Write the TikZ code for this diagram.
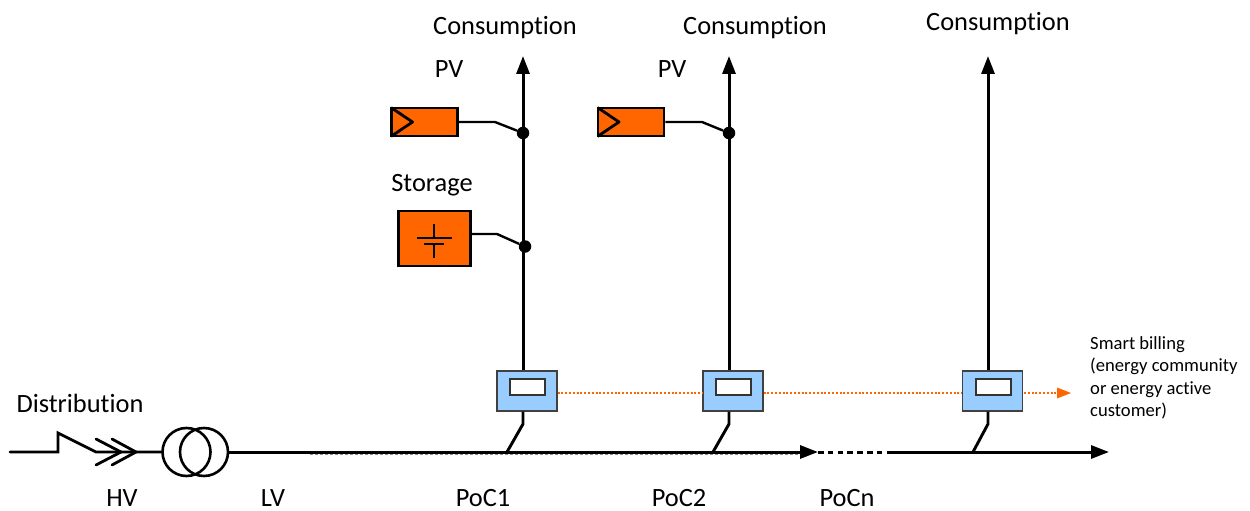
\documentclass[tikz,border=0pt]{standalone}
\usepackage{fontspec}
\setmainfont{Carlito}[Ligatures=CommonOff]
\usetikzlibrary{arrows.meta}
\definecolor{orfill}{HTML}{FF6600}
\definecolor{metblue}{HTML}{99CCFF}
\tikzset{
 x=1pt,y=-1pt,
 lbl/.style={inner sep=0pt,anchor=base,font=\fontsize{26.4}{30}\selectfont},
 small/.style={inner sep=0pt,align=left,anchor=north west,font=\fontsize{18.6}{22.5}\selectfont},
 wire/.style={line width=2.8pt,line cap=round,line join=miter},
 feed/.style={line width=3pt,-{Triangle[length=18pt,width=13pt]}},
 orbox/.style={draw=black,fill=orfill,line width=2.8pt,inner sep=0pt,minimum height=#1},
 meter/.style={draw=black!75,fill=metblue,line width=1.2pt,minimum width=60pt,minimum height=40pt,inner sep=0pt},
 window/.style={draw=black!80,fill=white,line width=1.2pt,minimum width=35pt,minimum height=16pt,inner sep=0pt},
 bill/.style={draw=orfill,line width=1.5pt,dash pattern=on 2pt off 1.8pt},
 dot/.style={circle,fill=black,minimum size=12.5pt,inner sep=0pt},
 xfmr/.style={draw=black,circle,line width=2.6pt,minimum size=48pt,inner sep=0pt},
 tail/.style={line width=2.9pt},
 stub/.style={line width=2.4pt},
 plate/.style={line width=1.6pt},
 arrowmark/.style={line width=2.8pt,line join=round},
}
\begin{document}
\begin{tikzpicture}
\useasboundingbox (0,0) rectangle (1250,511);
% meters
\node[meter] (m1) at (527,391) {};
\node[window] (w1) at (527.5,387) {};
\node[meter] (m2) at (733,391) {};
\node[window] (w2) at (733.5,387) {};
\node[meter] (m3) at (992.5,391) {};
\node[window] (w3) at (993.5,387) {};
% coordinates
\coordinate (start) at (10,452);
\coordinate (s1) at (58,452);
\coordinate (s2) at (58,433);
\coordinate (s3) at (96,452);
\coordinate (lvend) at (818,452);
\coordinate (gapend) at (890,452);
\coordinate (busend) at (1109,452);
\coordinate (top1) at (523,56);
\coordinate (top2) at (729,56);
\coordinate (top3) at (988,56);
\coordinate (k1) at (523,424);
\coordinate (k2) at (729,424);
\coordinate (k3) at (988,424);
\coordinate (b1) at (507,452);
\coordinate (b2) at (713,452);
\coordinate (b3) at (973,452);
\coordinate (billend) at (1071,393);
% transformer
\node[xfmr] (t1) at (186.5,452) {};
\node[xfmr] (t2) at (204,452) {};
% distribution feed
\draw[wire] (start) -- (s1) -- (s2) -- (s3) -- (t1.west);
\draw[wire] (96,439) -- (121,452) -- (96,465);
\draw[wire] (112,439) -- (136,452) -- (112,465);
% bus
\draw[feed] (t2.east) -- (lvend);
\draw[line width=1pt,black!45,dash pattern=on 3pt off 2pt] (310,454) -- (800,454);
\draw[line width=3pt,dash pattern=on 5.5pt off 4.3pt] (lvend) -- (gapend);
\draw[feed] (gapend) -- (busend);
% verticals
\draw[feed] (m1.north -| top1) -- (top1);
\draw[feed] (m2.north -| top2) -- (top2);
\draw[feed] (m3.north -| top3) -- (top3);
% meter tails
\draw[tail] (m1.south -| k1) -- (k1) -- (b1);
\draw[tail] (m2.south -| k2) -- (k2) -- (b2);
\draw[tail] (m3.south -| k3) -- (k3) -- (b3);
% billing line
\draw[bill] (m1.east |- billend) -- (m2.west |- billend);
\draw[bill] (m2.east |- billend) -- (m3.west |- billend);
\draw[bill] (1024,393) -- (1058,393);
\fill[orfill] (1057,387.5) -- (billend) -- (1057,398.5) -- cycle;
% PV 1
\node[orbox=28pt,minimum width=66pt] (pv1) at (424.5,122) {};
\draw[arrowmark] ([xshift=1pt,yshift=-1pt]pv1.north west) -- (412.5,122) -- ([xshift=1pt,yshift=1pt]pv1.south west);
\node[dot] (d1) at (523,133) {};
\coordinate (pk1) at (495,122);
\draw[stub] (pv1.east) -- (pk1) -- (d1);
% storage
\node[orbox=55pt,minimum width=72pt] (st) at (434.5,238.5) {};
\draw[plate] (434,224) -- (434,238);
\draw[plate] (417,238) -- (452,238);
\draw[plate] (424,244) -- (444,244);
\draw[plate] (434,244) -- (434,258);
\node[dot] (d2) at (525,246.5) {};
\coordinate (pk2) at (497,234);
\draw[stub] (st.east |- pk2) -- (pk2) -- (d2);
% PV 2
\node[orbox=28pt,minimum width=66pt] (pv2) at (631,122) {};
\draw[arrowmark] ([xshift=1pt,yshift=-1pt]pv2.north west) -- (619,122) -- ([xshift=1pt,yshift=1pt]pv2.south west);
\node[dot] (d3) at (729,133) {};
\coordinate (pk3) at (702,122);
\draw[stub] (pv2.east) -- (pk3) -- (d3);
% labels
\node[lbl] (c1) at (505,34.5) {Consumption};
\node[lbl] (c2) at (755,34.5) {Consumption};
\node[lbl] (c3) at (998,31) {Consumption};
\node[lbl] (l1) at (449,77.5) {PV};
\node[lbl] (l2) at (672,77.5) {PV};
\node[lbl] (l3) at (432,191) {Storage};
\node[lbl] (l4) at (80,412) {Distribution};
\node[lbl] (l5) at (122,506.5) {HV};
\node[lbl] (l6) at (273,506) {LV};
\node[lbl] (l7) at (483,506.5) {PoC1};
\node[lbl] (l8) at (679,506.8) {PoC2};
\node[lbl] (l9) at (847,506.8) {PoCn};
\node[small] (sb) at (1090,336) {Smart billing\\(energy community\\or energy active\\customer)};
\end{tikzpicture}
\end{document}
